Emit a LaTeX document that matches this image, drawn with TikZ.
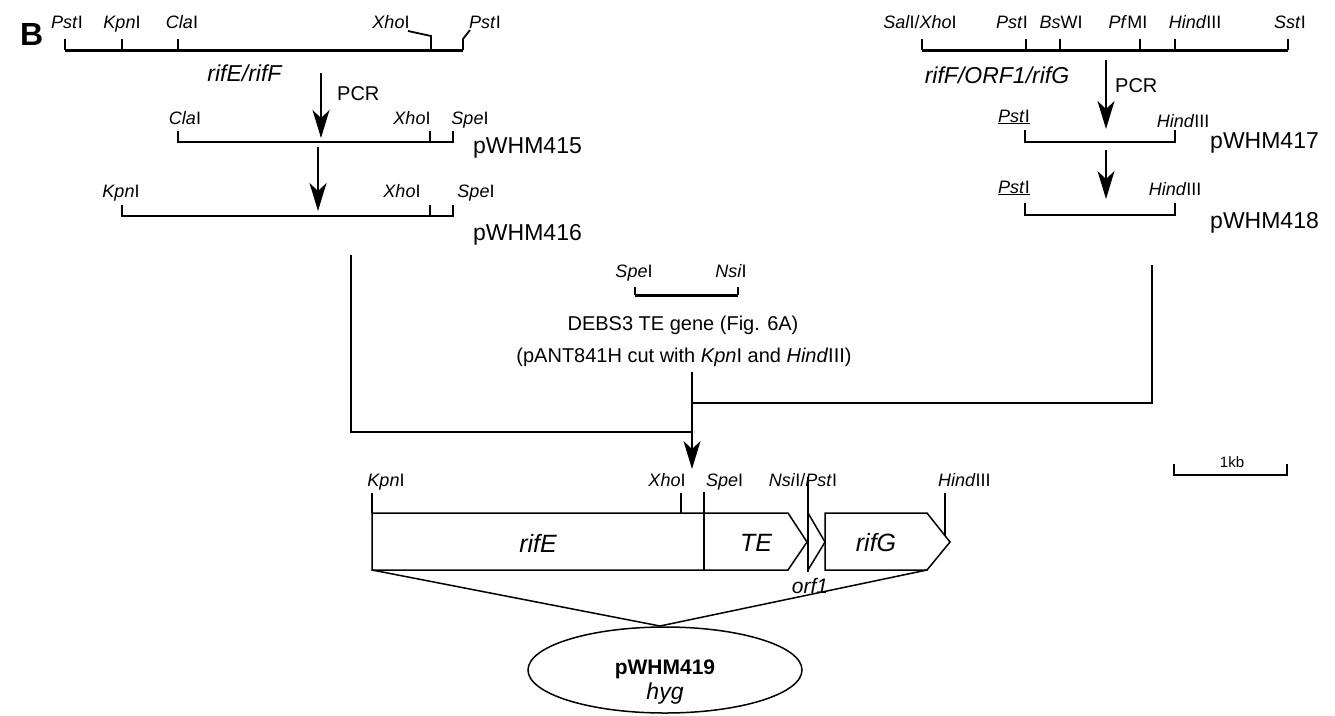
\documentclass[tikz,border=0pt]{standalone}
\usepackage{fontspec}
\setmainfont{Liberation Sans}
\usetikzlibrary{arrows.meta,shapes.geometric}
\newcommand\enz[2]{\textit{#1}#2}
\tikzset{
  lab/.style={font=\fontsize{18}{18}\selectfont, anchor=base, inner sep=0pt},
  big/.style={font=\fontsize{23}{23}\selectfont, anchor=base west, inner sep=0pt},
  mid/.style={font=\fontsize{20}{20}\selectfont, anchor=base, inner sep=0pt},
  gene/.style={font=\fontsize{25}{25}\selectfont\itshape, anchor=center, inner sep=0pt},
  heavy/.style={line width=3pt},
  mapln/.style={line width=1.8pt},
  conn/.style={line width=1.5pt},
  arr/.style={conn, -{Stealth[length=28pt,width=17pt,inset=8pt]}},
}
\begin{document}
\begin{tikzpicture}[x=1pt,y=-1pt]
\useasboundingbox (0,0) rectangle (1335,715);
\node[font=\fontsize{32}{32}\selectfont\bfseries, anchor=base west, inner sep=0pt] (B) at (20,45) {B};

% ---- top left map rifE/rifF
\draw[heavy] (65,50) -- (463,50);
\draw[mapln] (65,39) -- (65,50);
\draw[mapln] (122,39) -- (122,50);
\draw[mapln] (178,39) -- (178,50);
\draw[mapln] (408,31) -- (431,36) -- (431,50);
\draw[mapln] (463,50) -- (463,39) -- (470,30);
\node[lab] (tl1) at (67,28) {\enz{Pst}{I}};
\node[lab] (tl2) at (122,28) {\enz{Kpn}{I}};
\node[lab] (tl3) at (182,28) {\enz{Cla}{I}};
\node[lab] (tl4) at (391,28) {\enz{Xho}{I}};
\node[lab, anchor=base west] (tl5) at (469,28) {\enz{Pst}{I}};
\node[big, anchor=base] (rifEF) at (245,81) {\textit{rifE/rifF}};

\coordinate (a1s) at (321,73);
\coordinate (a1e) at (321,138);
\draw[arr] (a1s) -- (a1e);
\node[mid, anchor=base west] (pcr1) at (337,100) {PCR};

% ---- pWHM415
\draw[mapln] (178,131) -- (178,142) -- (453,142) -- (453,131);
\draw[mapln] (430,131) -- (430,142);
\node[lab] (l1) at (185,124) {\enz{Cla}{I}};
\node[lab] (l2) at (412,124) {\enz{Xho}{I}};
\node[lab] (l3) at (470,124) {\enz{Spe}{I}};
\node[big] (p415) at (473,153) {pWHM415};

\coordinate (a2s) at (318,147);
\coordinate (a2e) at (318,211);
\draw[arr] (a2s) -- (a2e);

% ---- pWHM416
\draw[mapln] (122,205) -- (122,216) -- (453,216) -- (453,205);
\draw[mapln] (430,205) -- (430,216);
\node[lab] (m1) at (121,197) {\enz{Kpn}{I}};
\node[lab] (m2) at (402,197) {\enz{Xho}{I}};
\node[lab] (m3) at (476,197) {\enz{Spe}{I}};
\node[big] (p416) at (473,240) {pWHM416};

% ---- top right map rifF/ORF1/rifG
\draw[heavy] (922,50) -- (1288,50);
\foreach \xx in {922,1026,1060,1140,1175,1288} \draw[mapln] (\xx,39) -- (\xx,50);
\node[lab] (tr1) at (920,28) {\enz{Sal}{I}/\enz{Xho}{I}};
\node[lab] (tr2) at (1012,28) {\enz{Pst}{I}};
\node[lab] (tr3) at (1061,28) {\enz{Bs}{WI}};
\node[lab] (tr4) at (1128,28) {\enz{Pf}{MI}};
\node[lab] (tr5) at (1195,28) {\enz{Hind}{III}};
\node[lab] (tr6) at (1290,28) {\enz{Sst}{I}};
\node[big, anchor=base] (rifFG) at (997,83) {\textit{rifF/ORF1/rifG}};

\coordinate (b1s) at (1106,60);
\coordinate (b1e) at (1106,129);
\draw[arr] (b1s) -- (b1e);
\node[mid, anchor=base west] (pcr2) at (1115,92) {PCR};

% ---- pWHM417
\draw[mapln] (1025,130) -- (1025,142) -- (1175,142) -- (1175,130);
\node[lab] (r1) at (1014,122) {\underline{\enz{Pst}{I}}};
\node[lab] (r2) at (1183,127) {\enz{Hind}{III}};
\node[big] (p417) at (1210,148) {pWHM417};

\coordinate (b2s) at (1106,150);
\coordinate (b2e) at (1106,199);
\draw[arr] (b2s) -- (b2e);

% ---- pWHM418
\draw[mapln] (1025,203) -- (1025,215) -- (1175,215) -- (1175,203);
\node[lab] (s1) at (1014,193) {\underline{\enz{Pst}{I}}};
\node[lab] (s2) at (1175,195) {\enz{Hind}{III}};
\node[big] (p418) at (1210,228) {pWHM418};

% ---- DEBS3 TE fragment
\draw[heavy] (635,295) -- (738,295);
\draw[mapln] (635,287) -- (635,295);
\draw[mapln] (738,287) -- (738,295);
\node[lab] (d1) at (634,277) {\enz{Spe}{I}};
\node[lab] (d2) at (731,277) {\enz{Nsi}{I}};
\node[mid] (debs) at (683,330) {DEBS3 TE gene (Fig. 6A)};
\node[mid] (pant) at (684,362) {(pANT841H cut with \textit{Kpn}I and \textit{Hind}III)};

% ---- connectors
\coordinate (lt) at (351,255);
\coordinate (lb) at (351,432);
\coordinate (jl) at (692,432);
\coordinate (rt) at (1152,265);
\coordinate (rb) at (1152,403);
\coordinate (jr) at (692,403);
\coordinate (ms) at (692,372);
\coordinate (me) at (692,469);
\draw[conn] (lt) -- (lb) -- (jl);
\draw[conn] (rt) -- (rb) -- (jr);
\draw[arr] (ms) -- (me);

% ---- final construct
\node[lab] (f1) at (386,486) {\enz{Kpn}{I}};
\node[lab] (f2) at (667,486) {\enz{Xho}{I}};
\node[lab, anchor=base west] (f3) at (706,486) {\enz{Spe}{I}};
\node[lab] (f4) at (803,486) {\enz{Nsi}{I}/\enz{Pst}{I}};
\node[lab, anchor=base west] (f5) at (938,486) {\enz{Hind}{III}};

\draw[conn] (372,493) -- (372,513);
\draw[conn] (681,493) -- (681,513);
\draw[conn] (704,492) -- (704,570);
\draw[conn] (808,477) -- (808,572);
\draw[conn] (945,493) -- (945,536);

\draw[conn] (372,513) -- (788,513) -- (807,542) -- (788,570) -- (372,570) -- cycle;
\draw[conn] (808,513) -- (825,542) -- (808,570);
\draw[conn] (825,513) -- (927,513) -- (950,542) -- (927,570) -- (825,570) -- cycle;
\node[gene] (gE) at (538,543) {rifE};
\node[gene] (gTE) at (756,543) {TE};
\node[gene] (gG) at (876,543) {rifG};
\node[font=\fontsize{21}{21}\selectfont\itshape, anchor=base, inner sep=0pt] (orf) at (810,593) {orf1};

\coordinate (bl) at (372,570);
\coordinate (br) at (927,570);
\coordinate (tip) at (660,626);
\draw[conn] (bl) -- (tip) -- (br);

\node[draw, ellipse, conn, minimum width=274pt, minimum height=86pt, inner sep=0pt] (pl) at (665,670) {};
\node[font=\fontsize{21}{21}\selectfont\bfseries, anchor=base, inner sep=0pt] (n419) at (665,674) {pWHM419};
\node[font=\fontsize{23}{23}\selectfont\itshape, anchor=base, inner sep=0pt] (hyg) at (665,699) {hyg};

% ---- scale bar
\draw[mapln] (1174,464) -- (1174,475) -- (1287,475) -- (1287,464);
\node[font=\fontsize{15}{15}\selectfont, anchor=base, inner sep=0pt] (kb) at (1232,467) {1kb};
\end{tikzpicture}
\end{document}
